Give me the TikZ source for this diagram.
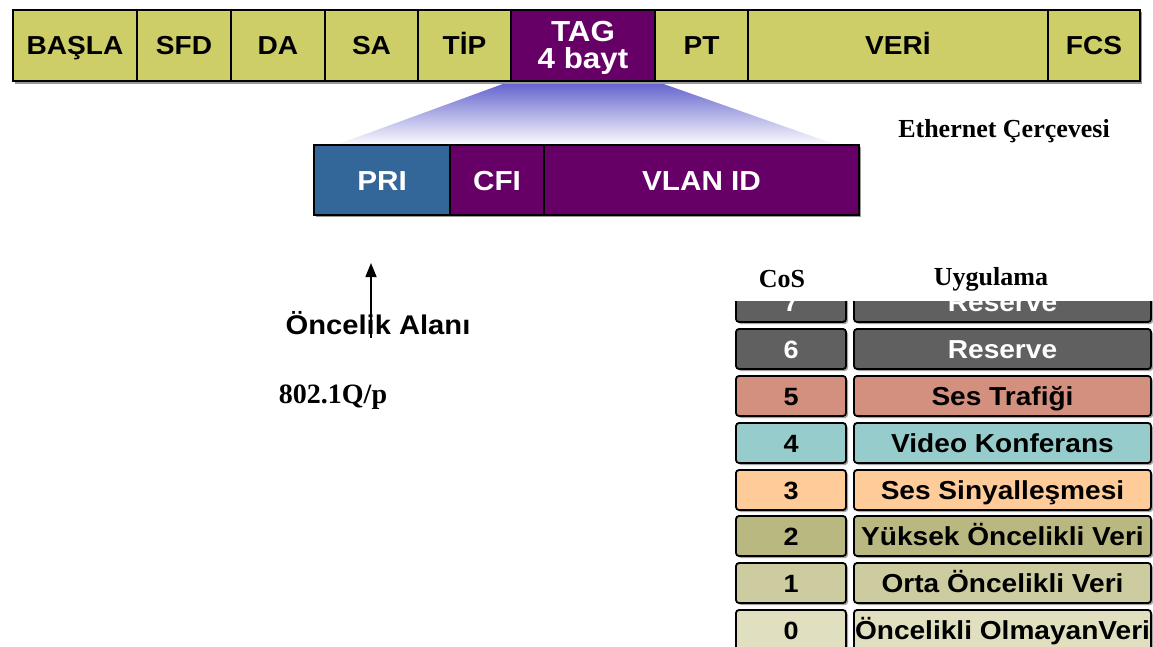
\documentclass[tikz,border=0pt]{standalone}
\usepackage{fontspec}
\usetikzlibrary{arrows.meta}
\newfontfamily\arialx[FakeStretch=1.08]{Liberation Sans}
\newfontfamily\timesx{Liberation Serif}
\definecolor{ylw}{RGB}{206,206,104}
\definecolor{prp}{RGB}{102,0,102}
\definecolor{pblue}{RGB}{51,102,153}
\definecolor{gry}{RGB}{96,96,96}
\definecolor{salmon}{RGB}{212,144,126}
\definecolor{teal}{RGB}{150,204,204}
\definecolor{peach}{RGB}{255,204,153}
\definecolor{olv}{RGB}{184,184,128}
\definecolor{olvl}{RGB}{204,204,160}
\definecolor{olvll}{RGB}{224,224,192}
\definecolor{fanblue}{RGB}{95,95,205}
\begin{document}
\begin{tikzpicture}[x=1pt,y=-1pt,
  boxbase/.style={draw=black, line width=1.5pt, inner sep=0pt, outer sep=0pt, anchor=north west,
    minimum height=71, align=center},
  fld/.style={boxbase, text height=19pt, text depth=0pt,
    font=\arialx\bfseries\fontsize{26}{27}\selectfont},
  tagbox/.style={boxbase, font=\arialx\bfseries\fontsize{29}{27}\selectfont},
  sub/.style={draw=black, line width=1.5pt, inner sep=0pt, outer sep=0pt, anchor=north west,
    minimum height=70, text=white, fill=prp, text height=20pt, text depth=0pt,
    font=\arialx\bfseries\fontsize{27.5}{30}\selectfont},
  rowbox/.style={draw=black, line width=1.8pt, rounded corners=3pt, inner sep=0pt, outer sep=0pt,
    anchor=north west, minimum height=40, text height=18.5pt, text depth=0pt,
    preaction={fill=black!35, transform canvas={shift={(2pt,-2pt)}}}},
  cosbox/.style={rowbox, minimum width=110, font=\arialx\bfseries\fontsize{25}{26}\selectfont},
  appbox/.style={rowbox, minimum width=297, font=\arialx\bfseries\fontsize{26}{28}\selectfont},
  ttl/.style={inner sep=0pt, font=\timesx\bfseries\fontsize{26}{28}\selectfont},
  arrowline/.style={line width=1.5pt, -{Triangle[length=14pt,width=11pt]}}
]
\useasboundingbox (0,0) rectangle (1153,647);
\clip (0,0) rectangle (1153,647);
\fill[white] (0,0) rectangle (1153,647);

% fan-out shading from TAG to sub-bar
\shade[top color=fanblue, bottom color=white] (511,81) -- (655,81) -- (840,146) -- (333,146) -- cycle;

% top frame bar
\fill[black!40] (15,12) rectangle (1142,84);
\node[fld, fill=ylw, minimum width=124] (basla) at (13,10) {BAŞLA};
\node[fld, fill=ylw, minimum width=94] (sfd) at (137,10) {SFD};
\node[fld, fill=ylw, minimum width=94] (da) at (231,10) {DA};
\node[fld, fill=ylw, minimum width=93] (sa) at (325,10) {SA};
\node[fld, fill=ylw, minimum width=93] (tip) at (418,10) {TİP};
\node[tagbox, fill=prp, text=white, minimum width=144] (tag) at (511,10) {\rule{0pt}{25pt}TAG\\4 bayt};
\node[fld, fill=ylw, minimum width=93] (pt) at (655,10) {PT};
\node[fld, fill=ylw, minimum width=300] (veri) at (748,10) {VERİ};
\node[fld, fill=ylw, minimum width=92] (fcs) at (1048,10) {FCS};

% tag detail bar
\fill[black!40] (316,147) rectangle (861,217);
\node[sub, fill=pblue, minimum width=136] (pri) at (314,145) {PRI};
\node[sub, minimum width=94] (cfi) at (450,145) {CFI};
\node[sub, minimum width=315] (vlan) at (544,145) {VLAN ID};

\node[ttl, anchor=center] (eth) at (1004,131) {Ethernet Çerçevesi};

% priority field arrow
\node[inner sep=0pt, font=\arialx\bfseries\fontsize{27}{29}\selectfont] (oncelik) at (378,323) {Öncelik Alanı};
\coordinate (arrbot) at (371,338);
\coordinate (arrtop) at (371,263);
\draw[arrowline] (arrbot) -- (arrtop);
\node[inner sep=0pt, font=\timesx\bfseries\fontsize{28}{30}\selectfont] (q) at (333,397) {802.1Q/p};

% CoS table
\node[cosbox, fill=gry, text=white] (c7) at (736,282) {7};
\node[appbox, fill=gry, text=white] (a7) at (854,282) {Reserve};
\node[cosbox, fill=gry, text=white] (c6) at (736,329) {6};
\node[appbox, fill=gry, text=white] (a6) at (854,329) {Reserve};
\node[cosbox, fill=salmon] (c5) at (736,376) {5};
\node[appbox, fill=salmon] (a5) at (854,376) {Ses Trafiği};
\node[cosbox, fill=teal] (c4) at (736,423) {4};
\node[appbox, fill=teal] (a4) at (854,423) {Video Konferans};
\node[cosbox, fill=peach] (c3) at (736,470) {3};
\node[appbox, fill=peach] (a3) at (854,470) {Ses Sinyalleşmesi};
\node[cosbox, fill=olv] (c2) at (736,516) {2};
\node[appbox, fill=olv] (a2) at (854,516) {Yüksek Öncelikli Veri};
\node[cosbox, fill=olvl] (c1) at (736,563) {1};
\node[appbox, fill=olvl] (a1) at (854,563) {Orta Öncelikli Veri};
\node[cosbox, fill=olvll] (c0) at (736,610) {0};
\node[appbox, fill=olvll] (a0) at (854,610) {Öncelikli OlmayanVeri};

% header cover and titles
\fill[white] (722,245) rectangle (1153,301);
\node[ttl] (cos) at (782,279) {CoS};
\node[ttl] (uyg) at (991,279) {Uygulama};
\end{tikzpicture}
\end{document}
